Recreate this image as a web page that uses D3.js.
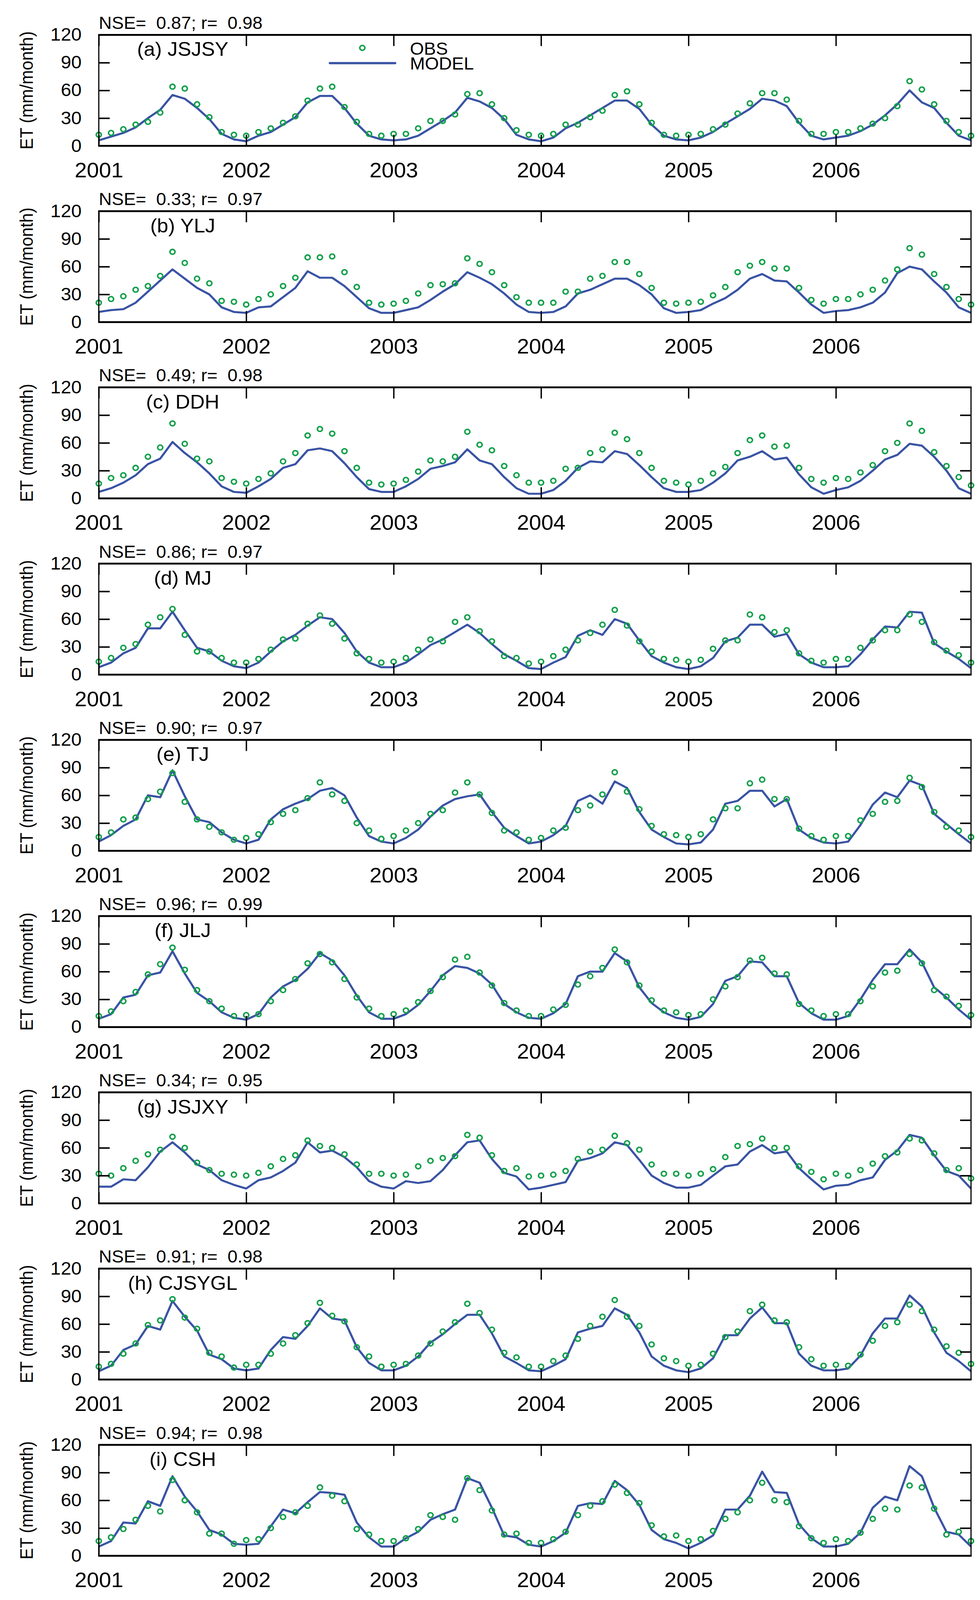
<!DOCTYPE html>
<html>
<head>
<meta charset="utf-8">
<script src="https://cdn.jsdelivr.net/npm/d3@7"></script>
<style>
  html, body { margin: 0; padding: 0; background: #fff; overflow: hidden; }
  text { font-family: "Liberation Sans", Arial, Helvetica, sans-serif; fill: #000; }
</style>
</head>
<body>
<div id="chart"></div>
<script>
const width = 2510;
const height = 4310;

// station names and fit statistics
const stations = ["(a) JSJSY", "(b) YLJ", "(c) DDH", "(d) MJ", "(e) TJ", "(f) JLJ", "(g) JSJXY", "(h) CJSYGL", "(i) CSH"];
const nse = ["0.87", "0.33", "0.49", "0.86", "0.90", "0.96", "0.34", "0.91", "0.94"];
const rval = ["0.98", "0.97", "0.98", "0.97", "0.97", "0.99", "0.95", "0.98", "0.98"];

// axis ticks
const yearMonths = [0, 12, 24, 36, 48, 60];
const yearLabels = ["2001", "2002", "2003", "2004", "2005", "2006"];
const yTicks = [0, 30, 60, 90, 120];
const yInnerTicks = [30, 60, 90];

// monthly ET (mm/month), Jan 2001 - Dec 2006
const obsA = [12,14,18,23,26,36,64,62,45,31,15,12, 11,15,19,25,32,49,62,64,42,26,13,11, 13,13,19,27,27,34,56,57,45,30,17,12, 11,13,23,23,31,38,55,59,45,25,12,11, 12,13,18,23,35,46,57,57,50,27,13,13, 15,15,19,24,30,43,70,61,45,27,15,11];
const modA = [6,10,14,20,30,39,55,51,41,29,13,7, 5,11,15,23,31,47,54,54,41,24,11,7, 6,7,11,19,27,36,52,48,41,29,12,7, 5,9,19,25,33,41,49,49,40,23,11,7, 6,9,15,24,32,40,51,49,43,25,11,7, 9,11,16,23,33,45,60,47,41,25,11,6];

const obsB = [21,25,28,35,39,50,76,64,47,42,23,22, 19,25,30,39,48,70,70,71,54,38,21,19, 20,23,31,40,41,42,69,63,54,40,27,21, 21,21,33,33,47,50,65,65,52,37,21,20, 21,22,29,38,54,61,65,58,58,37,24,20, 25,25,30,35,45,57,80,73,52,38,25,19];
const modB = [11,13,14,21,33,45,57,47,37,30,16,11, 10,16,17,27,37,55,48,48,39,27,15,10, 10,13,16,24,33,41,54,48,41,31,19,11, 10,11,17,31,35,41,47,47,40,30,15,10, 11,13,20,26,35,47,52,45,44,32,19,10, 12,13,16,21,32,53,60,57,44,32,16,10];

const obsC = [16,22,25,33,45,55,81,59,43,40,22,18, 16,21,27,40,49,68,75,70,51,33,17,15, 16,20,29,41,40,45,72,58,52,35,25,17, 17,19,32,33,49,53,71,64,49,33,19,17, 15,19,27,34,49,63,68,56,57,33,21,17, 22,21,28,36,51,60,81,73,50,35,23,14];
const modC = [7,11,17,25,37,43,61,49,39,27,13,7, 6,13,21,33,37,52,54,51,38,23,10,7, 7,13,21,32,35,39,53,41,37,23,11,5, 5,9,19,33,40,39,51,48,36,23,11,7, 7,9,17,27,41,45,51,42,44,26,12,5, 9,12,19,30,42,47,59,57,45,30,11,5];

const obsD = [14,18,29,33,54,62,71,43,25,25,18,13, 13,17,27,38,39,55,64,55,39,23,17,13, 14,18,27,38,36,57,62,47,36,20,18,12, 14,20,27,37,45,54,70,53,36,25,17,16, 14,16,28,37,37,65,62,46,48,23,15,13, 17,17,29,37,48,48,65,57,35,26,21,13];
const modD = [8,13,23,29,50,50,68,48,29,25,15,9, 7,13,25,36,43,53,62,60,45,25,13,8, 8,13,22,32,38,46,54,45,33,22,15,7, 6,13,19,42,48,43,60,55,37,20,13,8, 6,9,18,36,40,54,54,41,44,22,13,8, 8,9,22,38,52,51,68,67,34,25,17,7];

const obsE = [15,20,34,36,56,64,84,53,34,26,20,12, 14,18,31,40,44,57,74,61,54,30,22,13, 16,22,30,40,44,63,74,61,41,22,20,12, 14,22,25,44,49,61,85,64,45,27,18,17, 15,18,34,46,46,73,77,56,56,24,16,12, 16,16,33,40,53,54,79,69,42,26,22,15];
const modE = [10,17,27,34,60,58,87,59,34,31,20,12, 8,12,34,45,51,56,65,68,60,36,16,10, 8,14,23,37,49,56,59,61,42,25,16,8, 10,17,27,54,60,51,75,68,42,23,15,8, 7,9,23,51,54,65,65,48,56,23,14,9, 8,10,28,50,63,58,76,71,40,29,18,8];

const obsF = [12,17,28,38,57,68,86,62,40,28,20,12, 13,14,28,40,52,69,79,70,52,32,20,12, 14,18,27,39,54,73,76,59,45,26,18,12, 12,19,24,46,55,64,84,70,45,29,18,16, 13,14,30,44,54,72,75,58,57,25,18,12, 14,14,28,44,59,61,79,69,40,33,23,13];
const modF = [9,14,32,35,56,59,82,58,37,28,16,10, 8,14,32,44,51,63,80,72,56,34,16,9, 9,14,24,39,56,66,64,58,46,25,16,10, 9,15,25,55,60,60,80,71,43,26,16,10, 8,11,25,50,55,71,70,55,55,26,15,8, 8,12,30,51,68,68,84,70,43,32,19,8];

const obsG = [32,30,38,46,53,58,72,60,44,36,32,31, 30,33,40,48,52,68,62,60,53,42,32,32, 30,31,40,46,49,51,74,71,52,35,38,29, 30,31,35,48,56,58,73,65,58,42,32,32, 30,32,37,50,62,64,70,60,60,40,34,26, 32,30,36,43,51,55,70,68,54,36,38,27];
const modG = [18,18,26,25,39,56,66,55,42,36,25,20, 16,25,28,35,44,66,55,57,50,39,24,18, 16,24,22,24,36,52,66,68,48,33,29,15, 17,20,23,46,49,54,66,63,47,30,22,17, 17,20,30,40,42,56,63,54,56,38,26,15, 19,20,25,28,47,57,74,71,52,35,30,16];

const obsH = [14,17,28,39,59,64,87,67,55,29,25,13, 16,16,28,39,48,61,83,69,63,35,25,14, 16,17,26,39,52,62,82,72,54,29,24,14, 14,20,26,44,58,68,86,68,58,38,23,20, 15,16,28,46,52,74,81,64,62,35,22,15, 16,15,27,42,58,62,81,74,54,36,29,17];
const modH = [9,15,32,38,58,54,85,68,53,27,22,12, 10,12,32,46,44,58,77,66,64,35,18,10, 10,15,25,40,49,60,70,70,50,25,18,10, 9,15,22,51,55,58,77,70,51,25,15,10, 8,12,23,48,48,66,78,61,61,28,15,10, 10,12,26,50,66,66,91,79,51,29,20,9];

const obsI = [16,20,29,39,54,48,82,60,47,24,24,13, 17,18,30,42,47,54,74,65,59,29,23,16, 16,19,29,44,42,39,84,71,49,23,24,14, 14,18,26,44,54,59,77,68,57,33,21,22, 16,18,27,40,47,60,79,60,58,32,19,14, 18,16,25,40,51,50,76,74,51,23,26,16];
const modI = [10,16,36,35,59,54,86,64,48,28,23,13, 12,13,32,50,46,58,69,68,66,36,20,10, 10,19,26,39,45,50,84,79,52,22,20,12, 10,16,25,54,57,56,81,71,55,28,18,14, 8,14,22,50,50,65,91,69,68,34,19,10, 10,13,25,52,64,60,97,86,52,26,23,10];

const obsAll = [obsA, obsB, obsC, obsD, obsE, obsF, obsG, obsH, obsI];
const modAll = [modA, modB, modC, modD, modE, modF, modG, modH, modI];

const obsColor = "#12a04b";
const modColor = "#3953a4";

const plotLeft = 253, plotRight = 2487;
const firstTop = 94, panelStep = 474.75, plotH = 299;

// the browser window is shorter than the figure, so fit the whole figure into it
const viewW = window.innerWidth || width;
const viewH = Math.min(height, window.innerHeight || height);

const svg = d3.select("#chart").append("svg")
  .attr("width", viewW)
  .attr("height", viewH)
  .attr("viewBox", `0 0 ${width} ${height}`)
  .attr("preserveAspectRatio", "none")
  .style("display", "block")
  .style("background", "#fff");

const x = d3.scaleLinear().domain([0, 71]).range([plotLeft, plotRight]);
const y = d3.scaleLinear().domain([0, 120]).range([plotH, 0]);

const line = d3.line()
  .x((d, i) => x(i))
  .y((d) => y(d));

function styleTicks(g, w) {
  g.select(".domain").remove();
  g.selectAll(".tick line").attr("stroke", "#000").attr("stroke-width", w);
}

stations.forEach((name, k) => {
  const g = svg.append("g")
    .attr("transform", `translate(0,${firstTop + k * panelStep})`);

  // model line
  g.append("path")
    .datum(modAll[k])
    .attr("fill", "none")
    .attr("stroke", modColor)
    .attr("stroke-width", 5.5)
    .attr("stroke-linejoin", "round")
    .attr("d", line);

  // observed markers
  g.selectAll("circle.obs")
    .data(obsAll[k])
    .enter()
    .append("circle")
    .attr("class", "obs")
    .attr("cx", (d, i) => x(i))
    .attr("cy", (d) => y(d))
    .attr("r", 6.5)
    .attr("fill", "none")
    .attr("stroke", obsColor)
    .attr("stroke-width", 4);

  // frame
  g.append("line").attr("x1", plotLeft).attr("x2", plotLeft).attr("y1", 0).attr("y2", plotH)
    .attr("stroke", "#000").attr("stroke-width", 3);
  g.append("line").attr("x1", plotRight).attr("x2", plotRight).attr("y1", 0).attr("y2", plotH)
    .attr("stroke", "#000").attr("stroke-width", 3);
  g.append("line").attr("x1", plotLeft - 1.5).attr("x2", plotRight + 1.5).attr("y1", 0).attr("y2", 0)
    .attr("stroke", "#000").attr("stroke-width", 5);
  g.append("line").attr("x1", plotLeft - 1.5).attr("x2", plotRight + 1.5).attr("y1", plotH).attr("y2", plotH)
    .attr("stroke", "#000").attr("stroke-width", 5);

  // inward ticks
  g.append("g").attr("transform", `translate(${plotLeft},0)`)
    .call(d3.axisRight(y).tickValues(yInnerTicks).tickSize(28).tickFormat(""))
    .call(styleTicks, 4);
  g.append("g").attr("transform", `translate(${plotRight},0)`)
    .call(d3.axisLeft(y).tickValues(yInnerTicks).tickSize(28).tickFormat(""))
    .call(styleTicks, 4);
  g.append("g").attr("transform", `translate(0,${plotH})`)
    .call(d3.axisTop(x).tickValues(yearMonths).tickSize(30).tickFormat(""))
    .call(styleTicks, 3.5);
  g.append("g")
    .call(d3.axisBottom(x).tickValues(yearMonths).tickSize(30).tickFormat(""))
    .call(styleTicks, 3.5);

  // y tick labels
  g.append("g").attr("transform", `translate(${plotLeft},0)`)
    .call(d3.axisLeft(y).tickValues(yTicks).tickSize(0).tickPadding(44))
    .call((a) => a.select(".domain").remove())
    .selectAll("text")
    .attr("font-size", 48)
    .attr("font-family", null);

  // year labels
  g.append("g").attr("transform", `translate(0,${plotH})`)
    .call(d3.axisBottom(x).tickValues(yearMonths).tickSize(0).tickPadding(45)
      .tickFormat((d, i) => yearLabels[i]))
    .call((a) => a.select(".domain").remove())
    .selectAll("text")
    .attr("font-size", 56)
    .attr("font-family", null);

  // y axis title
  g.append("text")
    .attr("transform", `translate(68,${plotH / 2}) rotate(-90)`)
    .attr("dy", "0.35em")
    .attr("text-anchor", "middle")
    .attr("font-size", 46)
    .text("ET (mm/month)");

  // fit statistics
  g.append("text")
    .attr("x", plotLeft)
    .attr("y", -16)
    .attr("font-size", 46)
    .style("white-space", "pre")
    .text(`NSE=  ${nse[k]}; r=  ${rval[k]}`);

  // station label
  g.append("text")
    .attr("x", 468)
    .attr("y", 57)
    .attr("text-anchor", "middle")
    .attr("font-size", 52)
    .text(name);

  // legend in first panel
  if (k === 0) {
    g.append("circle")
      .attr("cx", 928).attr("cy", 35).attr("r", 6.5)
      .attr("fill", "none").attr("stroke", obsColor).attr("stroke-width", 4);
    g.append("line")
      .attr("x1", 845).attr("x2", 1012).attr("y1", 76).attr("y2", 76)
      .attr("stroke", modColor).attr("stroke-width", 6).attr("stroke-linecap", "round");
    g.append("text").attr("x", 1050).attr("y", 53).attr("font-size", 46).text("OBS");
    g.append("text").attr("x", 1050).attr("y", 93).attr("font-size", 46).text("MODEL");
  }
});
</script>
</body>
</html>
